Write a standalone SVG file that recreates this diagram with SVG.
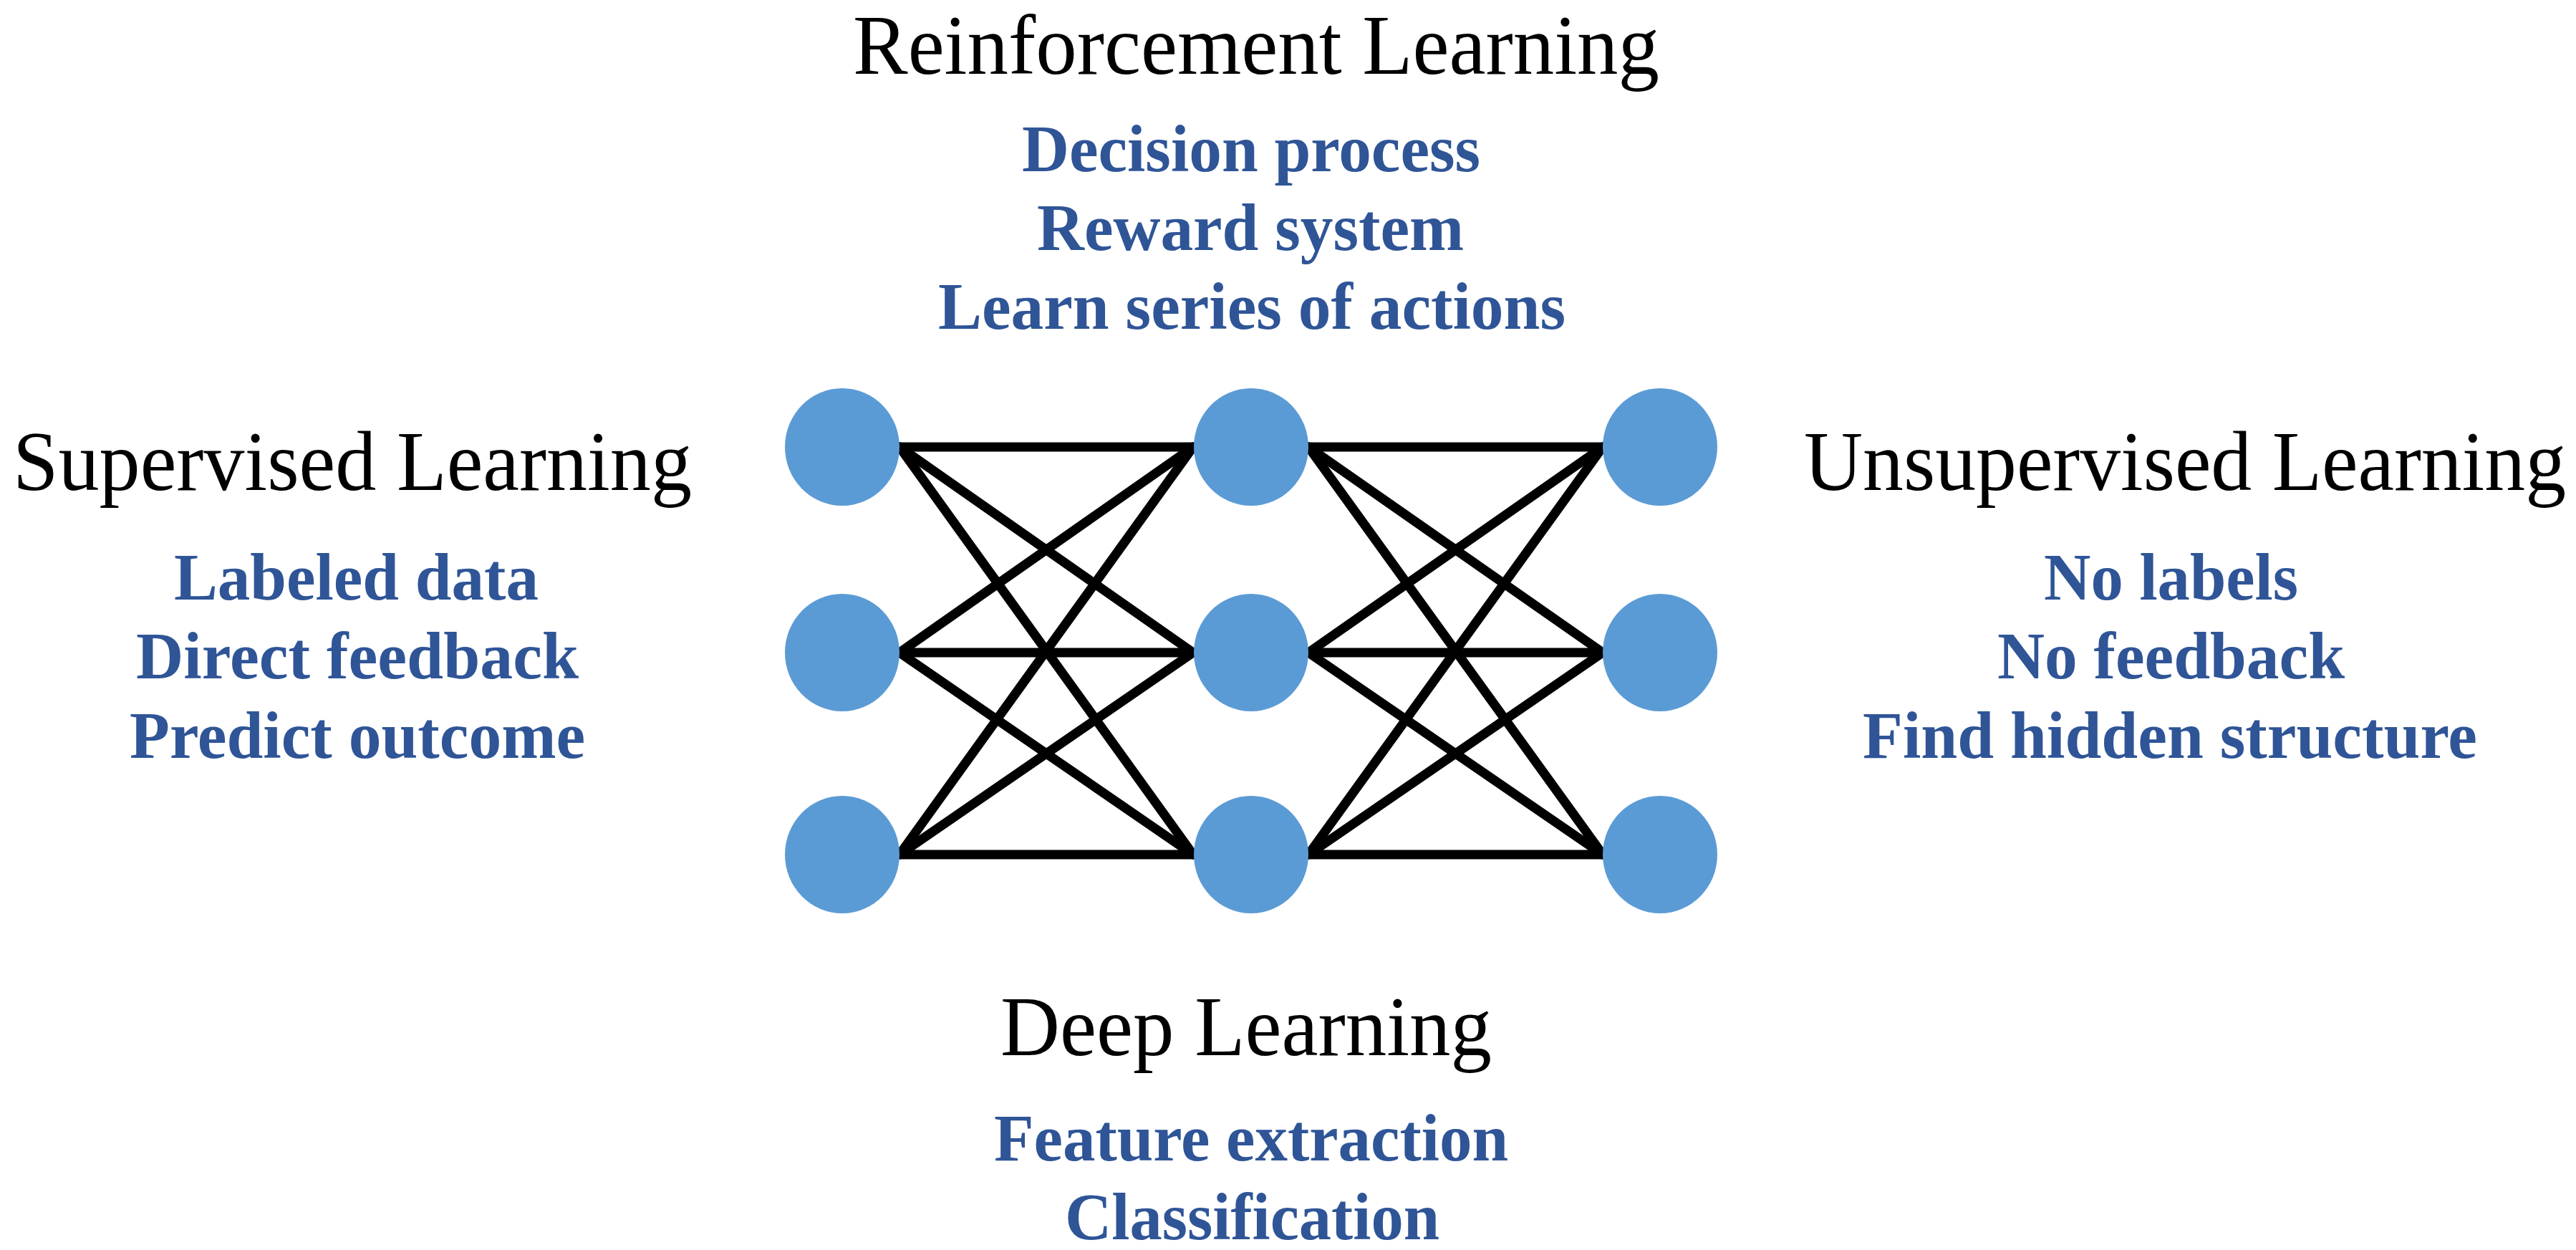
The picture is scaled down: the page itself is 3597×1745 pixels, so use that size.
<svg xmlns="http://www.w3.org/2000/svg" width="3597" height="1745" viewBox="0 0 3597 1745">
<style>
.h{font-family:"Liberation Serif",serif;font-size:118px;fill:#000}
.b{font-family:"Liberation Serif",serif;font-size:94px;font-weight:bold;fill:#2F5597}
.n{fill:#5B9BD5}
.c line{stroke:#000;stroke-width:13;stroke-linecap:round}
</style>
<rect width="3597" height="1745" fill="#fff"/>
<g class="c" id="connectors">
<line x1="1256" y1="624" x2="1666" y2="624"/><line x1="1256" y1="624" x2="1666" y2="911"/><line x1="1256" y1="624" x2="1666" y2="1193"/>
<line x1="1256" y1="911" x2="1666" y2="624"/><line x1="1256" y1="911" x2="1666" y2="911"/><line x1="1256" y1="911" x2="1666" y2="1193"/>
<line x1="1256" y1="1193" x2="1666" y2="624"/><line x1="1256" y1="1193" x2="1666" y2="911"/><line x1="1256" y1="1193" x2="1666" y2="1193"/>
<line x1="1827" y1="624" x2="2238" y2="624"/><line x1="1827" y1="624" x2="2238" y2="911"/><line x1="1827" y1="624" x2="2238" y2="1193"/>
<line x1="1827" y1="911" x2="2238" y2="624"/><line x1="1827" y1="911" x2="2238" y2="911"/><line x1="1827" y1="911" x2="2238" y2="1193"/>
<line x1="1827" y1="1193" x2="2238" y2="624"/><line x1="1827" y1="1193" x2="2238" y2="911"/><line x1="1827" y1="1193" x2="2238" y2="1193"/>
</g>
<g id="n1"><ellipse class="n" cx="1176" cy="624" rx="80" ry="82"/></g>
<g id="n2"><ellipse class="n" cx="1176" cy="911" rx="80" ry="82"/></g>
<g id="n3"><ellipse class="n" cx="1176" cy="1193" rx="80" ry="82"/></g>
<g id="n4"><ellipse class="n" cx="1747" cy="624" rx="80" ry="82"/></g>
<g id="n5"><ellipse class="n" cx="1747" cy="911" rx="80" ry="82"/></g>
<g id="n6"><ellipse class="n" cx="1747" cy="1193" rx="80" ry="82"/></g>
<g id="n7"><ellipse class="n" cx="2318" cy="624" rx="80" ry="82"/></g>
<g id="n8"><ellipse class="n" cx="2318" cy="911" rx="80" ry="82"/></g>
<g id="n9"><ellipse class="n" cx="2318" cy="1193" rx="80" ry="82"/></g>
<g id="reinforcement">
<text class="h" x="1191" y="103" textLength="1126" lengthAdjust="spacingAndGlyphs">Reinforcement Learning</text>
<text class="b" x="1427" y="239" textLength="640" lengthAdjust="spacingAndGlyphs">Decision process</text>
<text class="b" x="1448" y="349" textLength="596" lengthAdjust="spacingAndGlyphs">Reward system</text>
<text class="b" x="1310" y="459" textLength="876" lengthAdjust="spacingAndGlyphs">Learn series of actions</text>
</g>
<g id="supervised">
<text class="h" x="18" y="684" textLength="948" lengthAdjust="spacingAndGlyphs">Supervised Learning</text>
<text class="b" x="243" y="837" textLength="509" lengthAdjust="spacingAndGlyphs">Labeled data</text>
<text class="b" x="190" y="947" textLength="618" lengthAdjust="spacingAndGlyphs">Direct feedback</text>
<text class="b" x="181" y="1058" textLength="636" lengthAdjust="spacingAndGlyphs">Predict outcome</text>
</g>
<g id="unsupervised">
<text class="h" x="2519" y="684" textLength="1064" lengthAdjust="spacingAndGlyphs">Unsupervised Learning</text>
<text class="b" x="2854" y="837" textLength="355" lengthAdjust="spacingAndGlyphs">No labels</text>
<text class="b" x="2789" y="947" textLength="485" lengthAdjust="spacingAndGlyphs">No feedback</text>
<text class="b" x="2601" y="1058" textLength="858" lengthAdjust="spacingAndGlyphs">Find hidden structure</text>
</g>
<g id="deep">
<text class="h" x="1397" y="1473" textLength="686" lengthAdjust="spacingAndGlyphs">Deep Learning</text>
<text class="b" x="1388" y="1620" textLength="718" lengthAdjust="spacingAndGlyphs">Feature extraction</text>
<text class="b" x="1487" y="1730" textLength="523" lengthAdjust="spacingAndGlyphs">Classification</text>
</g>
</svg>
